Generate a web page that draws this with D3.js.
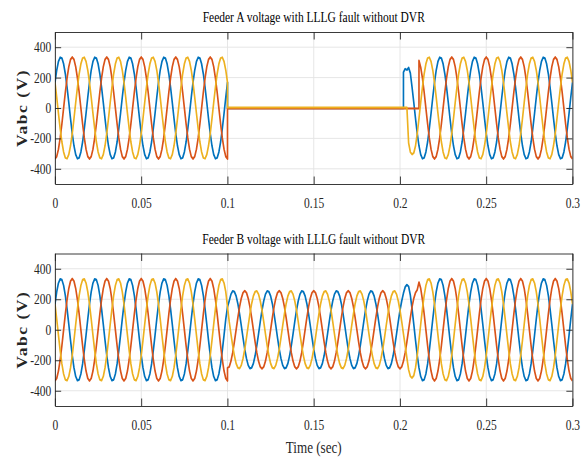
<!DOCTYPE html>
<html><head><meta charset="utf-8">
<script src="https://cdn.jsdelivr.net/npm/d3@7"></script>
<style>
html,body{margin:0;padding:0;background:#fff;}
svg{display:block;font-family:"Liberation Serif","Times New Roman",serif;}
</style>
</head><body>
<svg id="chart" width="585" height="457"></svg>
<script>
// ---------- DATA (sampled every 1 ms, 0 .. 0.3 s; [before, after] = vertical step) ----------
const sampleStepSec = 0.001;
const panelTitles = ["Feeder A voltage with LLLG fault without DVR", "Feeder B voltage with LLLG fault without DVR"];
const xAxisLabel = "Time (sec)";
const yAxisLabel = "Vabc (V)";
const xTickValues = [0, 0.05, 0.1, 0.15, 0.2, 0.25, 0.3];
const xTickLabels = ["0", "0.05", "0.1", "0.15", "0.2", "0.25", "0.3"];
const yTickValues = [-400, -200, 0, 200, 400];
const yTickLabels = ["-400", "-200", "0", "200", "400"];
const seriesColors = ["#0072BD", "#D95319", "#EDB120"];

const feederA_phaseA = [
168,249,306,333,328,290,224,136,35,-70,-168,-249,-306,-333,-328,-290,-224,-136,-35,70,
168,249,306,333,328,290,224,136,35,-70,-168,-249,-306,-333,-328,-290,-224,-136,-35,70,
168,249,306,333,328,290,224,136,35,-70,-168,-249,-306,-333,-328,-290,-224,-136,-35,70,
168,249,306,333,328,290,224,136,35,-70,-168,-249,-306,-333,-328,-290,-224,-136,-35,70,
168,249,306,333,328,290,224,136,35,-70,-168,-249,-306,-333,-328,-290,-224,-136,-35,70,
[168,-1],-1,-1,-1,-1,-1,-1,-1,-1,-1,-1,-1,-1,-1,-1,-1,-1,-1,-1,-1,
-1,-1,-1,-1,-1,-1,-1,-1,-1,-1,-1,-1,-1,-1,-1,-1,-1,-1,-1,-1,
-1,-1,-1,-1,-1,-1,-1,-1,-1,-1,-1,-1,-1,-1,-1,-1,-1,-1,-1,-1,
-1,-1,-1,-1,-1,-1,-1,-1,-1,-1,-1,-1,-1,-1,-1,-1,-1,-1,-1,-1,
-1,-1,-1,-1,-1,-1,-1,-1,-1,-1,-1,-1,-1,-1,-1,-1,-1,-1,-1,-1,
-1,-1,[-1,235],258,250,266,230,136,35,-70,-168,-249,-306,-333,-328,-290,-224,-136,-35,70,
168,249,306,333,328,290,224,136,35,-70,-168,-249,-306,-333,-328,-290,-224,-136,-35,70,
168,249,306,333,328,290,224,136,35,-70,-168,-249,-306,-333,-328,-290,-224,-136,-35,70,
168,249,306,333,328,290,224,136,35,-70,-168,-249,-306,-333,-328,-290,-224,-136,-35,70,
168,249,306,333,328,290,224,136,35,-70,-168,-249,-306,-333,-328,-290,-224,-136,-35,70,
168];

const feederA_phaseB = [
-335,-319,-271,-197,-104,0,104,197,271,319,335,319,271,197,104,0,-104,-197,-271,-319,
-335,-319,-271,-197,-104,0,104,197,271,319,335,319,271,197,104,0,-104,-197,-271,-319,
-335,-319,-271,-197,-104,0,104,197,271,319,335,319,271,197,104,0,-104,-197,-271,-319,
-335,-319,-271,-197,-104,0,104,197,271,319,335,319,271,197,104,0,-104,-197,-271,-319,
-335,-319,-271,-197,-104,0,104,197,271,319,335,319,271,197,104,0,-104,-197,-271,-319,
[-335,-4],-4,-4,-4,-4,-4,-4,-4,-4,-4,-4,-4,-4,-4,-4,-4,-4,-4,-4,-4,
-4,-4,-4,-4,-4,-4,-4,-4,-4,-4,-4,-4,-4,-4,-4,-4,-4,-4,-4,-4,
-4,-4,-4,-4,-4,-4,-4,-4,-4,-4,-4,-4,-4,-4,-4,-4,-4,-4,-4,-4,
-4,-4,-4,-4,-4,-4,-4,-4,-4,-4,-4,-4,-4,-4,-4,-4,-4,-4,-4,-4,
-4,-4,-4,-4,-4,-4,-4,-4,-4,-4,-4,-4,-4,-4,-4,-4,-4,-4,-4,-4,
-4,-4,-4,-4,-4,-4,-4,-4,-4,-4,-4,[-4,312],268,197,104,0,-104,-197,-271,-319,
-335,-319,-271,-197,-104,0,104,197,271,319,335,319,271,197,104,0,-104,-197,-271,-319,
-335,-319,-271,-197,-104,0,104,197,271,319,335,319,271,197,104,0,-104,-197,-271,-319,
-335,-319,-271,-197,-104,0,104,197,271,319,335,319,271,197,104,0,-104,-197,-271,-319,
-335,-319,-271,-197,-104,0,104,197,271,319,335,319,271,197,104,0,-104,-197,-271,-319,
-335];

const feederA_phaseC = [
168,70,-35,-136,-224,-290,-328,-333,-306,-249,-168,-70,35,136,224,290,328,333,306,249,
168,70,-35,-136,-224,-290,-328,-333,-306,-249,-168,-70,35,136,224,290,328,333,306,249,
168,70,-35,-136,-224,-290,-328,-333,-306,-249,-168,-70,35,136,224,290,328,333,306,249,
168,70,-35,-136,-224,-290,-328,-333,-306,-249,-168,-70,35,136,224,290,328,333,306,249,
168,70,-35,-136,-224,-290,-328,-333,-306,-249,-168,-70,35,136,224,290,328,333,306,249,
[168,3],3,3,3,3,3,3,3,3,3,3,3,3,3,3,3,3,3,3,3,
3,3,3,3,3,3,3,3,3,3,3,3,3,3,3,3,3,3,3,3,
3,3,3,3,3,3,3,3,3,3,3,3,3,3,3,3,3,3,3,3,
3,3,3,3,3,3,3,3,3,3,3,3,3,3,3,3,3,3,3,3,
3,3,3,3,3,3,3,3,3,3,3,3,3,3,3,3,3,3,3,3,
3,3,3,3,3,-230,-290,-305,-295,-249,-168,-70,35,136,224,290,328,333,306,249,
168,70,-35,-136,-224,-290,-328,-333,-306,-249,-168,-70,35,136,224,290,328,333,306,249,
168,70,-35,-136,-224,-290,-328,-333,-306,-249,-168,-70,35,136,224,290,328,333,306,249,
168,70,-35,-136,-224,-290,-328,-333,-306,-249,-168,-70,35,136,224,290,328,333,306,249,
168,70,-35,-136,-224,-290,-328,-333,-306,-249,-168,-70,35,136,224,290,328,333,306,249,
168];

const feederB_phaseA = [
168,249,306,333,328,290,224,136,35,-70,-168,-249,-306,-333,-328,-290,-224,-136,-35,70,
168,249,306,333,328,290,224,136,35,-70,-168,-249,-306,-333,-328,-290,-224,-136,-35,70,
168,249,306,333,328,290,224,136,35,-70,-168,-249,-306,-333,-328,-290,-224,-136,-35,70,
168,249,306,333,328,290,224,136,35,-70,-168,-249,-306,-333,-328,-290,-224,-136,-35,70,
168,249,306,333,328,290,224,136,35,-70,-168,-249,-306,-333,-328,-290,-224,-136,-35,70,
150,189,233,254,249,221,171,104,27,-53,-128,-189,-233,-254,-249,-221,-171,-104,-27,53,
128,189,233,254,249,221,171,104,27,-53,-128,-189,-233,-254,-249,-221,-171,-104,-27,53,
128,189,233,254,249,221,171,104,27,-53,-128,-189,-233,-254,-249,-221,-171,-104,-27,53,
128,189,233,254,249,221,171,104,27,-53,-128,-189,-233,-254,-249,-221,-171,-104,-27,53,
128,189,233,254,249,221,171,104,27,-53,-128,-189,-233,-254,-249,-221,-171,-104,-27,53,
128,189,240,280,295,283,226,136,35,-70,-168,-249,-306,-333,-328,-290,-224,-136,-35,70,
168,249,306,333,328,290,224,136,35,-70,-168,-249,-306,-333,-328,-290,-224,-136,-35,70,
168,249,306,333,328,290,224,136,35,-70,-168,-249,-306,-333,-328,-290,-224,-136,-35,70,
168,249,306,333,328,290,224,136,35,-70,-168,-249,-306,-333,-328,-290,-224,-136,-35,70,
168,249,306,333,328,290,224,136,35,-70,-168,-249,-306,-333,-328,-290,-224,-136,-35,70,
168];

const feederB_phaseB = [
-335,-319,-271,-197,-104,0,104,197,271,319,335,319,271,197,104,0,-104,-197,-271,-319,
-335,-319,-271,-197,-104,0,104,197,271,319,335,319,271,197,104,0,-104,-197,-271,-319,
-335,-319,-271,-197,-104,0,104,197,271,319,335,319,271,197,104,0,-104,-197,-271,-319,
-335,-319,-271,-197,-104,0,104,197,271,319,335,319,271,197,104,0,-104,-197,-271,-319,
-335,-319,-271,-197,-104,0,104,197,271,319,335,319,271,197,104,0,-104,-197,-271,-319,
[-335,-250],-243,-206,-150,-79,0,79,150,206,243,255,243,206,150,79,0,-79,-150,-206,-243,
-255,-243,-206,-150,-79,0,79,150,206,243,255,243,206,150,79,0,-79,-150,-206,-243,
-255,-243,-206,-150,-79,0,79,150,206,243,255,243,206,150,79,0,-79,-150,-206,-243,
-255,-243,-206,-150,-79,0,79,150,206,243,255,243,206,150,79,0,-79,-150,-206,-243,
-255,-243,-206,-150,-79,0,79,150,206,243,255,243,206,150,79,0,-79,-150,-206,-243,
-255,-243,-206,-150,-79,0,79,150,206,243,262,312,271,197,104,0,-104,-197,-271,-319,
-335,-319,-271,-197,-104,0,104,197,271,319,335,319,271,197,104,0,-104,-197,-271,-319,
-335,-319,-271,-197,-104,0,104,197,271,319,335,319,271,197,104,0,-104,-197,-271,-319,
-335,-319,-271,-197,-104,0,104,197,271,319,335,319,271,197,104,0,-104,-197,-271,-319,
-335,-319,-271,-197,-104,0,104,197,271,319,335,319,271,197,104,0,-104,-197,-271,-319,
-335];

const feederB_phaseC = [
168,70,-35,-136,-224,-290,-328,-333,-306,-249,-168,-70,35,136,224,290,328,333,306,249,
168,70,-35,-136,-224,-290,-328,-333,-306,-249,-168,-70,35,136,224,290,328,333,306,249,
168,70,-35,-136,-224,-290,-328,-333,-306,-249,-168,-70,35,136,224,290,328,333,306,249,
168,70,-35,-136,-224,-290,-328,-333,-306,-249,-168,-70,35,136,224,290,328,333,306,249,
168,70,-35,-136,-224,-290,-328,-333,-306,-249,-168,-70,35,136,224,290,328,333,306,249,
150,53,-27,-104,-171,-221,-249,-254,-233,-189,-128,-53,27,104,171,221,249,254,233,189,
128,53,-27,-104,-171,-221,-249,-254,-233,-189,-128,-53,27,104,171,221,249,254,233,189,
128,53,-27,-104,-171,-221,-249,-254,-233,-189,-128,-53,27,104,171,221,249,254,233,189,
128,53,-27,-104,-171,-221,-249,-254,-233,-189,-128,-53,27,104,171,221,249,254,233,189,
128,53,-27,-104,-171,-221,-249,-254,-233,-189,-128,-53,27,104,171,221,249,254,233,189,
128,53,-27,-104,-185,-262,-305,-316,-300,-249,-168,-70,35,136,224,290,328,333,306,249,
168,70,-35,-136,-224,-290,-328,-333,-306,-249,-168,-70,35,136,224,290,328,333,306,249,
168,70,-35,-136,-224,-290,-328,-333,-306,-249,-168,-70,35,136,224,290,328,333,306,249,
168,70,-35,-136,-224,-290,-328,-333,-306,-249,-168,-70,35,136,224,290,328,333,306,249,
168,70,-35,-136,-224,-290,-328,-333,-306,-249,-168,-70,35,136,224,290,328,333,306,249,
168];

// ---------- LAYOUT ----------
const SX = 0.82; // horizontal squeeze of the whole figure
const svg = d3.select("#chart");
const root = svg.append("g").attr("transform", `scale(${SX},1)`);
const plotLeft = 55 / SX, plotRight = 572.5 / SX;
const tickLen = 7.5;
const axisColor = "#262626";

const panels = [
  { title: panelTitles[0], series: [feederA_phaseA, feederA_phaseB, feederA_phaseC], top: 32, bottom: 184, titleY: 22.5 },
  { title: panelTitles[1], series: [feederB_phaseA, feederB_phaseB, feederB_phaseC], top: 253.5, bottom: 406, titleY: 244 }
];

function toPoints(values) {
  const pts = [];
  values.forEach((v, i) => {
    const t = i * sampleStepSec;
    if (Array.isArray(v)) { pts.push([t, v[0]]); pts.push([t, v[1]]); }
    else pts.push([t, v]);
  });
  return pts;
}

panels.forEach((p, pi) => {
  const x = d3.scaleLinear().domain([0, 0.3]).range([plotLeft, plotRight]);
  const y = d3.scaleLinear().domain([-500, 500]).range([p.bottom, p.top]);
  const g = root.append("g");

  // grid
  g.append("g").selectAll("line").data(xTickValues).join("line")
    .attr("x1", d => x(d)).attr("x2", d => x(d)).attr("y1", p.top).attr("y2", p.bottom)
    .attr("stroke", "#e3e3e3").attr("stroke-width", 1);
  g.append("g").selectAll("line").data(yTickValues).join("line")
    .attr("x1", plotLeft).attr("x2", plotRight).attr("y1", d => y(d)).attr("y2", d => y(d))
    .attr("stroke", "#e3e3e3").attr("stroke-width", 1);

  // clip
  const clipId = "clip" + pi;
  g.append("clipPath").attr("id", clipId).append("rect")
    .attr("x", plotLeft).attr("y", p.top).attr("width", plotRight - plotLeft).attr("height", p.bottom - p.top);

  const line = d3.line().x(d => x(d[0])).y(d => y(d[1])).curve(d3.curveLinear);
  const lg = g.append("g").attr("clip-path", `url(#${clipId})`);
  p.series.forEach((s, si) => {
    lg.append("path").attr("d", line(toPoints(s)))
      .attr("fill", "none").attr("stroke", seriesColors[si]).attr("stroke-width", 2)
      .attr("stroke-linejoin", "round");
  });

  // axes
  const styleAxis = sel => {
    sel.attr("font-family", null).attr("font-size", null);
    sel.selectAll("path.domain").attr("stroke", axisColor);
    sel.selectAll(".tick line").attr("stroke", axisColor);
    sel.selectAll(".tick text").attr("fill", axisColor).attr("font-size", 14)
      .attr("font-family", "'Liberation Serif','Times New Roman',serif");
  };
  g.append("g").attr("transform", `translate(0,${p.bottom})`)
    .call(d3.axisBottom(x).tickValues(xTickValues).tickFormat((d, i) => xTickLabels[i])
      .tickSizeInner(-tickLen).tickSizeOuter(0).tickPadding(14)).call(styleAxis);
  g.append("g").attr("transform", `translate(0,${p.top})`)
    .call(d3.axisTop(x).tickValues(xTickValues).tickFormat("")
      .tickSizeInner(-tickLen).tickSizeOuter(0)).call(styleAxis);
  g.append("g").attr("transform", `translate(${plotLeft},0)`)
    .call(d3.axisLeft(y).tickValues(yTickValues).tickFormat((d, i) => yTickLabels[i])
      .tickSizeInner(-tickLen).tickSizeOuter(0).tickPadding(4.5)).call(styleAxis);
  g.append("g").attr("transform", `translate(${plotRight},0)`)
    .call(d3.axisRight(y).tickValues(yTickValues).tickFormat("")
      .tickSizeInner(-tickLen).tickSizeOuter(0)).call(styleAxis);

  // title
  g.append("text").attr("x", (plotLeft + plotRight) / 2).attr("y", p.titleY)
    .attr("text-anchor", "middle").attr("font-size", 14).attr("fill", "#000")
    .text(p.title);

  // y label
  g.append("text")
    .attr("transform", `translate(${32.5},${(p.top + p.bottom) / 2}) rotate(-90)`)
    .attr("text-anchor", "middle").attr("font-size", 17.5).attr("font-weight", "bold")
    .attr("letter-spacing", 1.5).attr("fill", axisColor)
    .text(yAxisLabel);
});

// x label
root.append("text").attr("x", (plotLeft + plotRight) / 2).attr("y", 453)
  .attr("text-anchor", "middle").attr("font-size", 16).attr("fill", axisColor)
  .text(xAxisLabel);
</script>
</body></html>
